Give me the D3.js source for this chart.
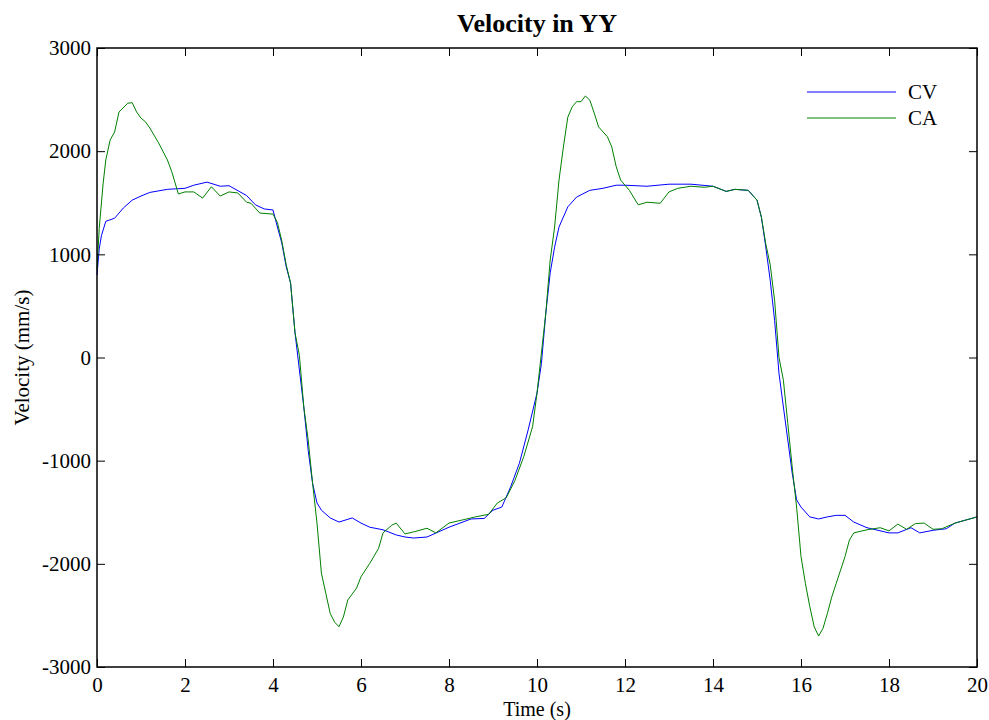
<!DOCTYPE html>
<html>
<head>
<meta charset="utf-8">
<script src="https://cdn.jsdelivr.net/npm/d3@7"></script>
<style>
  body { margin: 0; background: #fff; }
  svg text { font-family: "Liberation Serif", "Times New Roman", serif; fill: #000; }
</style>
</head>
<body>
<div id="chart"></div>
<script>
// values
var cvTime = [0, 0.05, 0.1, 0.2, 0.4, 0.6, 0.8, 1.0, 1.2, 1.6, 2.0, 2.2, 2.5, 2.8, 3.0, 3.4, 3.6, 3.8, 4.0,
  4.1, 4.2, 4.3, 4.4, 4.5, 4.6, 4.7, 4.8, 4.9, 5.0, 5.1, 5.3, 5.5, 5.8, 6.0, 6.2, 6.5, 6.8, 7.0, 7.2, 7.5,
  8.0, 8.5, 8.8, 9.0, 9.2, 9.4, 9.6, 9.8, 10.0, 10.1, 10.2, 10.3, 10.4, 10.5, 10.7, 10.9, 11.2, 11.5, 11.8,
  12.0, 12.5, 13.0, 13.5, 14.0, 14.3, 14.5, 14.8, 15.0, 15.1, 15.2, 15.3, 15.4, 15.5, 15.6, 15.7, 15.8, 15.9,
  16.0, 16.2, 16.4, 16.6, 16.8, 17.0, 17.2, 17.5, 18.0, 18.2, 18.5, 18.7, 19.0, 19.3, 19.5, 20.0];
var cvVal = [800, 1050, 1180, 1320, 1350, 1450, 1525, 1565, 1600, 1630, 1640, 1670, 1700, 1660, 1665, 1570, 1480, 1440, 1430,
  1265, 1110, 880, 720, 240, -120, -480, -900, -1220, -1410, -1480, -1555, -1595, -1555, -1605, -1645, -1670, -1720, -1740, -1750, -1740,
  -1645, -1565, -1560, -1480, -1450, -1255, -1025, -700, -345, -60, 430, 820, 1070, 1265, 1460, 1555, 1620, 1640, 1670,
  1670, 1660, 1680, 1680, 1660, 1610, 1630, 1620, 1525, 1360, 1070, 750, 360, -155, -480, -800, -1120, -1380,
  -1450, -1545, -1565, -1545, -1530, -1530, -1595, -1650, -1700, -1700, -1650, -1700, -1675, -1660, -1605, -1545];

var caTime = [0, 0.05, 0.14, 0.2, 0.3, 0.4, 0.5, 0.7, 0.8, 0.9, 1.0, 1.1, 1.2, 1.4, 1.6, 1.7, 1.85, 2.0, 2.2, 2.4,
  2.6, 2.8, 3.0, 3.2, 3.4, 3.5, 3.7, 4.0, 4.1, 4.2, 4.3, 4.4, 4.5, 4.6, 4.7, 4.8, 4.9, 5.0, 5.1, 5.2, 5.3, 5.4,
  5.5, 5.6, 5.7, 5.9, 6.0, 6.2, 6.4, 6.5, 6.7, 6.8, 7.0, 7.2, 7.5, 7.7, 8.0, 8.3, 8.6, 8.9, 9.1, 9.3, 9.5, 9.7,
  9.9, 10.0, 10.2, 10.3, 10.4, 10.5, 10.6, 10.7, 10.8, 10.9, 11.0, 11.1, 11.2, 11.3, 11.4, 11.6, 11.7, 11.8, 11.9,
  12.1, 12.3, 12.5, 12.8, 13.0, 13.2, 13.5, 13.8, 14.0, 14.3, 14.5, 14.8, 15.0, 15.1, 15.2, 15.3, 15.4, 15.5, 15.6,
  15.7, 15.8, 15.9, 16.0, 16.1, 16.2, 16.3, 16.4, 16.5, 16.6, 16.7, 16.8, 16.9, 17.0, 17.1, 17.2, 17.5, 17.8, 18.0,
  18.2, 18.4, 18.6, 18.8, 19.0, 19.2, 19.5, 20.0];
var caVal = [850, 1250, 1690, 1915, 2110, 2185, 2380, 2465, 2470, 2380, 2320, 2285, 2225, 2080, 1915, 1800, 1585, 1605, 1605, 1545,
  1655, 1565, 1605, 1595, 1505, 1495, 1400, 1390, 1310, 1130, 900, 720, 240, 20, -480, -800, -1220, -1605, -2090, -2285, -2480, -2565,
  -2610, -2515, -2350, -2235, -2125, -1995, -1850, -1700, -1625, -1605, -1710, -1690, -1655, -1700, -1605, -1575, -1545, -1520, -1410, -1360, -1190, -960,
  -670, -345, 430, 945, 1265, 1720, 2040, 2330, 2430, 2480, 2480, 2535, 2495, 2370, 2235, 2140, 2040, 1850, 1720,
  1620, 1480, 1505, 1495, 1605, 1640, 1660, 1650, 1660, 1610, 1630, 1620, 1525, 1360, 1100, 900, 555, 0, -220,
  -640, -1060, -1450, -1930, -2190, -2415, -2610, -2700, -2625, -2480, -2320, -2190, -2060, -1930, -1770, -1700, -1670, -1650, -1680,
  -1615, -1665, -1610, -1605, -1665, -1660, -1605, -1545];

var xTicks = [0, 2, 4, 6, 8, 10, 12, 14, 16, 18, 20];
var yTicks = [-3000, -2000, -1000, 0, 1000, 2000, 3000];
var seriesNames = ["CV", "CA"];
var seriesColors = ["#0000ff", "#008000"];

var W = 989, H = 720;
var margin = {top: 48, right: 12, bottom: 53, left: 97};
var width = W - margin.left - margin.right,
    height = H - margin.top - margin.bottom;

var svg = d3.select("#chart").append("svg")
    .attr("width", W)
    .attr("height", H);

var g = svg.append("g")
    .attr("transform", "translate(" + margin.left + "," + margin.top + ")");

var x = d3.scaleLinear().domain([0, 20]).range([0, width]);
var y = d3.scaleLinear().domain([-3000, 3000]).range([height, 0]);

// lines
var series = [
  {name: seriesNames[0], color: seriesColors[0], t: cvTime, v: cvVal},
  {name: seriesNames[1], color: seriesColors[1], t: caTime, v: caVal}
];
var line = d3.line()
    .x(function(d) { return x(d[0]); })
    .y(function(d) { return y(d[1]); });

series.forEach(function(s) {
  g.append("path")
    .datum(d3.zip(s.t, s.v))
    .attr("fill", "none")
    .attr("stroke", s.color)
    .attr("stroke-width", 1)
    .attr("d", line);
});

// axes (ticks inside, mirrored on top and right)
var tickLen = 8;
var plain = function(d) { return String(d); };  // keep ascii hyphen for negatives
var xAxis = g.append("g")
    .attr("transform", "translate(0," + height + ")")
    .call(d3.axisBottom(x).tickValues(xTicks).tickSize(-tickLen).tickPadding(10).tickFormat(plain));
var yAxis = g.append("g")
    .call(d3.axisLeft(y).tickValues(yTicks).tickSize(-tickLen).tickPadding(6).tickFormat(plain));
var xTop = g.append("g")
    .call(d3.axisTop(x).tickValues(xTicks).tickSize(-tickLen).tickFormat(""));
var yRight = g.append("g")
    .attr("transform", "translate(" + width + ",0)")
    .call(d3.axisRight(y).tickValues(yTicks).tickSize(-tickLen).tickFormat(""));

[xAxis, yAxis, xTop, yRight].forEach(function(a) {
  a.select(".domain").remove();
  a.selectAll(".tick line").attr("stroke", "#000").attr("stroke-width", 1);
  a.selectAll("text")
    .style("font-family", "'Liberation Serif', 'Times New Roman', serif")
    .style("font-size", "21px")
    .attr("fill", "#000");
});

// frame
g.append("rect")
    .attr("x", 0).attr("y", 0)
    .attr("width", width).attr("height", height)
    .attr("fill", "none")
    .attr("stroke", "#000")
    .attr("stroke-width", 1.5);

// title and labels
svg.append("text")
    .attr("x", margin.left + width / 2)
    .attr("y", 32)
    .attr("text-anchor", "middle")
    .style("font-size", "26px")
    .style("font-weight", "bold")
    .text("Velocity in YY");

svg.append("text")
    .attr("x", margin.left + width / 2)
    .attr("y", 716)
    .attr("text-anchor", "middle")
    .style("font-size", "20px")
    .text("Time (s)");

svg.append("text")
    .attr("transform", "translate(29," + (margin.top + height / 2) + ") rotate(-90)")
    .attr("text-anchor", "middle")
    .style("font-size", "21px")
    .text("Velocity (mm/s)");

// legend
var legend = g.append("g").attr("transform", "translate(" + (807 - margin.left) + "," + (92 - margin.top) + ")");
series.forEach(function(s, i) {
  var row = legend.append("g").attr("transform", "translate(0," + (i * 26) + ")");
  row.append("line")
    .attr("x1", 0).attr("x2", 89)
    .attr("y1", 0).attr("y2", 0)
    .attr("stroke", s.color)
    .attr("stroke-width", 1);
  row.append("text")
    .attr("x", 101)
    .attr("y", 0)
    .attr("dy", "0.35em")
    .style("font-size", "21px")
    .text(s.name);
});
</script>
</body>
</html>
